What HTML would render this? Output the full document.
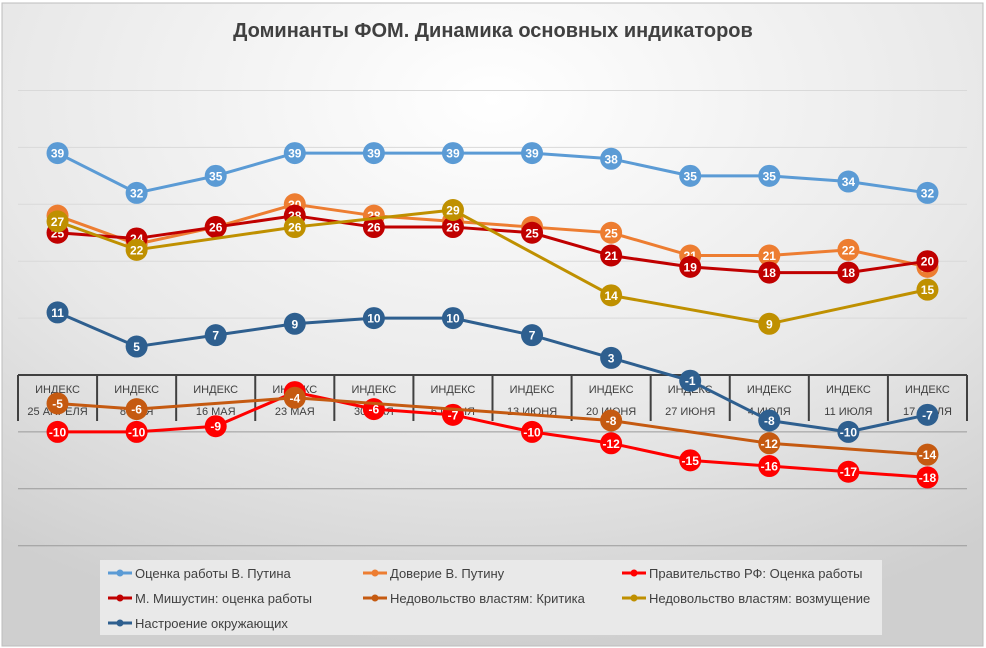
<!DOCTYPE html>
<html><head><meta charset="utf-8">
<style>
html,body{margin:0;padding:0;width:986px;height:648px;overflow:hidden;background:#fff;}
#chart{position:absolute;left:0;top:0;width:986px;height:648px;}
</style></head>
<body>
<svg id="chart" width="986" height="648" xmlns="http://www.w3.org/2000/svg">
<defs>
<radialGradient id="bg" cx="0.5" cy="0.15" r="0.85">
<stop offset="0" stop-color="#ffffff"/>
<stop offset="0.6" stop-color="#e8e8e8"/>
<stop offset="1" stop-color="#cfcfcf"/>
</radialGradient>
</defs>
<rect x="2" y="3" width="981" height="643" fill="url(#bg)" stroke="#bdbdbd"/>
<text x="493" y="37" text-anchor="middle" font-family="Liberation Sans, DejaVu Sans, sans-serif" font-weight="bold" font-size="20" fill="#404040">Доминанты ФОМ. Динамика основных индикаторов</text>
<g id="grid"></g>
<g id="axis"></g>
<g id="series"></g>
<rect x="100" y="560" width="782" height="75" fill="#e9e9e9"/>
<g id="legend"></g>
</svg>
<script>
const categories = ["25 АПРЕЛЯ","8 МАЯ","16 МАЯ","23 МАЯ","30 МАЯ","6 ИЮНЯ","13 ИЮНЯ","20 ИЮНЯ","27 ИЮНЯ","4 ИЮЛЯ","11 ИЮЛЯ","17 ИЮЛЯ"];
const gridValues = [50,40,30,20,10,-10,-20,-30];
const seriesNames = ["Оценка работы В. Путина","Доверие В. Путину","Правительство РФ: Оценка работы","М. Мишустин: оценка работы","Недовольство властям:  Критика","Недовольство властям: возмущение","Настроение окружающих"];
const seriesColors = ["#5B9BD5","#ED7D31","#FF0000","#C00000","#C55A11","#BF9000","#2E5F8F"];
const putinRating = [39,32,35,39,39,39,39,38,35,35,34,32];
const putinTrust = [28,23,26,30,28,27,26,25,21,21,22,19];
const government = [-10,-10,-9,-3,-6,-7,-10,-12,-15,-16,-17,-18];
const mishustin = [25,24,26,28,26,26,25,21,19,18,18,20];
const critique = [-5,-6,null,-4,null,null,null,-8,null,-12,null,-14];
const outrage = [27,22,null,26,null,29,null,14,null,9,null,15];
const mood = [11,5,7,9,10,10,7,3,-1,-8,-10,-7];
const seriesData = [putinRating,putinTrust,government,mishustin,critique,outrage,mood];
const drawOrder = [0,1,2,3,4,5,6];

const NS="http://www.w3.org/2000/svg";
const x0=18, x1=967;
const cw=(x1-x0)/categories.length;
function xPos(i){return x0+cw*(i+0.5);}
function yPos(v){return 375-5.69*v;}
function mk(tag,attrs,parent){const e=document.createElementNS(NS,tag);for(const k in attrs)e.setAttribute(k,attrs[k]);parent.appendChild(e);return e;}
const font="Liberation Sans, DejaVu Sans, sans-serif";

const grid=document.getElementById('grid');
gridValues.forEach(v=>{
  const l=mk('line',{x1:x0,x2:x1,y1:yPos(v),y2:yPos(v),stroke:v<0?'#9a9a9a':'#d9d9d9','stroke-width':1},grid);
  
  
});
const axis=document.getElementById('axis');
const al=mk('line',{x1:x0,x2:x1,y1:yPos(0),y2:yPos(0),stroke:'#404040','stroke-width':2},axis);


for(let i=0;i<=categories.length;i++){
  const t=mk('line',{x1:x0+cw*i,x2:x0+cw*i,y1:yPos(0),y2:yPos(0)+46,stroke:'#404040','stroke-width':2},axis);
  
  
}
categories.forEach((c,i)=>{
  const a=mk('text',{x:xPos(i),y:yPos(0)+18,'text-anchor':'middle','font-family':font,'font-size':11,fill:'#404040'},axis);
  a.textContent='ИНДЕКС';
  
  
  const b=mk('text',{x:xPos(i),y:yPos(0)+40,'text-anchor':'middle','font-family':font,'font-size':11,fill:'#404040'},axis);
  b.textContent=c;
  
  
});

const sg=document.getElementById('series');
drawOrder.forEach(s=>{
  const d=seriesData[s], col=seriesColors[s];
  const g=mk('g',{},sg);
  
  
  const pts=[];
  d.forEach((v,i)=>{if(v!==null)pts.push(xPos(i)+','+yPos(v));});
  const pl=mk('polyline',{points:pts.join(' '),fill:'none',stroke:col,'stroke-width':3,'stroke-linejoin':'round'},g);
  
  
  d.forEach((v,i)=>{
    if(v===null)return;
    const c=mk('circle',{cx:xPos(i),cy:yPos(v),r:11,fill:col},g);
    
    
    const t=mk('text',{x:xPos(i),y:yPos(v)+4.5,'text-anchor':'middle','font-family':font,'font-size':12,'font-weight':'bold',fill:'#fff'},g);
    t.textContent=v;
    
    
  });
});

const lg=document.getElementById('legend');
const lx=[108,363,622], ly=[573,598,623];
seriesNames.forEach((n,i)=>{
  const x=lx[i%3], y=ly[Math.floor(i/3)];
  const g=mk('g',{},lg);
  
  
  mk('line',{x1:x,x2:x+24,y1:y,y2:y,stroke:seriesColors[i],'stroke-width':3},g);
  mk('circle',{cx:x+12,cy:y,r:3.5,fill:seriesColors[i]},g);
  const t=mk('text',{x:x+27,y:y+5,'font-family':font,'font-size':13,fill:'#404040'},g);
  t.textContent=n;
});
</script>
</body></html>
